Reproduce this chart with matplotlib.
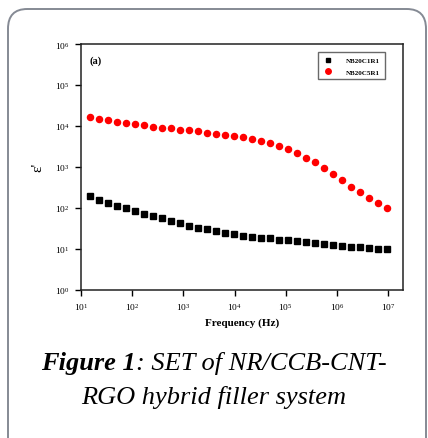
import matplotlib
matplotlib.use("Agg")
import matplotlib.pyplot as plt
from matplotlib.patches import FancyBboxPatch

# frequency (Hz)
freq = [15, 22.5, 33.7, 50.6, 75.9, 114, 171, 256, 384, 577, 865, 1297,
        1946, 2919, 4379, 6568, 9853, 14779, 22169, 33253, 49880, 74820,
        112230, 168345, 252517, 378776, 568164, 852246, 1278369, 1917553,
        2876330, 4314495, 6471743, 9707614]

# dielectric constant, NB20C1R1
eps_c1 = [195, 158, 131, 113, 97, 84, 72, 63, 55, 47, 43, 36.6, 33, 29.6,
          27, 24.6, 22.3, 20.7, 19.6, 18.8, 17.8, 16.8, 16.5, 15.6, 14.8,
          14.0, 13.0, 12.5, 12.0, 11.3, 11.0, 10.7, 10.1, 9.8]

# dielectric constant, NB20C5R1
eps_c5 = [16150, 14680, 13870, 12680, 11970, 11060, 10280, 9550, 9030, 8690,
          8070, 7760, 7330, 6810, 6440, 5950, 5620, 5220, 4750, 4240, 3790,
          3270, 2700, 2200, 1690, 1300, 925, 674, 470, 329, 238, 170, 128, 99]

x_ticks = [1e1, 1e2, 1e3, 1e4, 1e5, 1e6, 1e7]
y_ticks = [1e0, 1e1, 1e2, 1e3, 1e4, 1e5, 1e6]

serif = "Liberation Serif"

fig = plt.figure(figsize=(4.28, 4.39), dpi=100)

# rounded frame around the whole card
frame = FancyBboxPatch((8 / 428, -20 / 439), 418 / 428, 449 / 439,
                       boxstyle="round,pad=0,rounding_size=0.045",
                       transform=fig.transFigure, facecolor="none",
                       edgecolor="#858a94", linewidth=1.4)
fig.patches.append(frame)

ax = fig.add_axes([81 / 428, 1 - 290.7 / 439, 322 / 428, 245.7 / 439])

ax.plot(freq, eps_c1, linestyle="none", marker="s", markersize=3.9,
        color="black", label="NB20C1R1")
ax.plot(freq, eps_c5, linestyle="none", marker="o", markersize=4.4,
        color="#ff0000", label="NB20C5R1")

ax.set_xscale("log")
ax.set_yscale("log")
ax.set_xlim(10, 1.95e7)
ax.set_ylim(1, 1e6)
ax.set_xticks(x_ticks)
ax.set_yticks(y_ticks)
ax.minorticks_off()
ax.tick_params(direction="out", length=4, width=1, labelsize=6.8,
               top=False, right=False, pad=4)
for lab in ax.get_xticklabels() + ax.get_yticklabels():
    lab.set_fontfamily(serif)
for s in ax.spines.values():
    s.set_linewidth(1.1)
    s.set_color("#222222")

ax.set_xlabel("Frequency (Hz)", fontfamily=serif, fontweight="bold",
              fontsize=8, labelpad=4)
ax.set_ylabel("ε'", fontfamily=serif, fontsize=11, labelpad=8)

ax.text(0.025, 0.955, "(a)", transform=ax.transAxes, fontfamily=serif,
        fontweight="bold", fontsize=7.5, va="top", ha="left")

leg = ax.legend(loc="upper right", bbox_to_anchor=(0.955, 0.98),
                prop={"family": serif, "weight": "bold", "size": 5},
                frameon=True, fancybox=False, edgecolor="#444444",
                handlelength=1.5, handletextpad=1.8, borderpad=0.7,
                labelspacing=0.8, markerscale=0.9)
leg.get_frame().set_linewidth(1.0)

# caption: bold-italic "Figure 1" followed by italic text
cap_size = 19
part1 = "Figure 1"
part2 = ": SET of NR/CCB-CNT-"
y1 = 1 - 364 / 439
t1 = fig.text(0, y1, part1, ha="left", va="center", fontsize=cap_size,
              fontstyle="italic", fontweight="bold", fontfamily=serif)
t2 = fig.text(0, y1, part2, ha="left", va="center", fontsize=cap_size,
              fontstyle="italic", fontfamily=serif)
renderer = fig.canvas.get_renderer()
w1 = t1.get_window_extent(renderer).width
w2 = t2.get_window_extent(renderer).width
figw = fig.bbox.width
x0 = (figw - (w1 + w2)) / 2
t1.set_x(x0 / figw)
t2.set_x((x0 + w1) / figw)
fig.text(0.5, 1 - 398 / 439, "RGO hybrid filler system",
         ha="center", va="center", fontsize=cap_size, fontstyle="italic",
         fontfamily=serif)

fig.savefig("out.png", dpi=100)
